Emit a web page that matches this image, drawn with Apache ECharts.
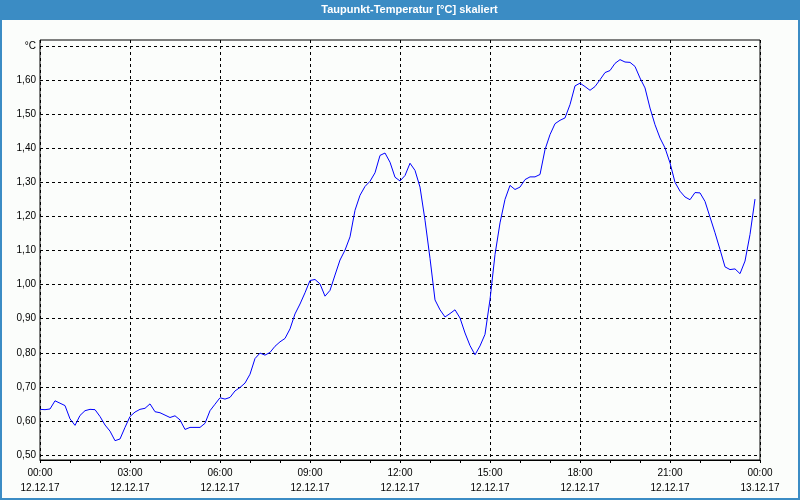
<!DOCTYPE html>
<html>
<head>
<meta charset="utf-8">
<script src="https://cdn.jsdelivr.net/npm/echarts@6/dist/echarts.min.js"></script>
<style>
  html, body { margin: 0; padding: 0; background: #fbfdfb; }
  #chart { width: 800px; height: 500px; }
</style>
</head>
<body>
<div id="chart"></div>
<script>
// Dew point temperature (°C, scaled), sampled every 10 minutes from 12.12.17 00:00
const chartTitle = 'Taupunkt-Temperatur [°C] skaliert';
const stepMinutes = 10;
const dewPoint = [
  // 00:00 - 04:50
  0.634, 0.633, 0.635, 0.659, 0.652, 0.645, 0.606, 0.587, 0.616, 0.630,
  0.634, 0.633, 0.613, 0.588, 0.570, 0.542, 0.547, 0.581, 0.613, 0.626,
  0.634, 0.637, 0.650, 0.627, 0.624, 0.617, 0.610, 0.615, 0.603, 0.575,
  // 05:00 - 09:40
  0.581, 0.581, 0.581, 0.593, 0.630, 0.649, 0.668, 0.664, 0.669, 0.688,
  0.698, 0.711, 0.737, 0.783, 0.799, 0.793, 0.801, 0.819, 0.832, 0.842,
  0.870, 0.914, 0.943, 0.976, 1.012, 1.015, 1.002, 0.966, 0.983,
  // 09:50 - 14:40
  1.028, 1.072, 1.101, 1.140, 1.218, 1.262, 1.288, 1.303, 1.328, 1.379,
  1.386, 1.359, 1.315, 1.304, 1.320, 1.356, 1.335, 1.286, 1.189, 1.077,
  0.955, 0.926, 0.905, 0.915, 0.926, 0.902, 0.858, 0.821, 0.794, 0.820,
  // 14:50 - 19:20
  0.854, 0.956, 1.088, 1.181, 1.250, 1.291, 1.279, 1.286, 1.308, 1.316,
  1.316, 1.323, 1.396, 1.440, 1.472, 1.482, 1.489, 1.528, 1.583, 1.591,
  1.581, 1.570, 1.581, 1.601, 1.622, 1.628, 1.649, 1.660,
  // 19:30 - 23:50
  1.653, 1.652, 1.640, 1.606, 1.577, 1.518, 1.469, 1.430, 1.401, 1.357,
  1.300, 1.274, 1.257, 1.249, 1.270, 1.269, 1.244, 1.198, 1.152, 1.103,
  1.052, 1.044, 1.046, 1.032, 1.069, 1.147, 1.251
];
const xTickLabels = [
  '00:00\n12.12.17', '03:00\n12.12.17', '06:00\n12.12.17', '09:00\n12.12.17',
  '12:00\n12.12.17', '15:00\n12.12.17', '18:00\n12.12.17', '21:00\n12.12.17',
  '00:00\n13.12.17'
];
const yUnitLabel = '°C';
const yMin = 0.5, yMax = 1.7, yStep = 0.1;
const xMinutesTotal = 1440, xStepMinutes = 180;

const seriesData = dewPoint.map((v, i) => [i * stepMinutes, v]);

const chart = echarts.init(document.getElementById('chart'), null, { renderer: 'canvas' });
const FONT = 'Liberation Sans';
const BLUE = '#3b8cc4';

chart.setOption({
  animation: false,
  backgroundColor: '#fbfdfb',
  textStyle: { fontFamily: FONT },
  graphic: [
    { type: 'rect', z: 0, shape: { x: 0, y: 0, width: 800, height: 20 }, style: { fill: BLUE } },
    { type: 'rect', z: 0, shape: { x: 1, y: 1, width: 798, height: 498 }, style: { fill: null, stroke: BLUE, lineWidth: 2 } },
    { type: 'text', z: 10, style: { text: chartTitle, x: 409.5, y: 10, align: 'center', verticalAlign: 'middle',
        fill: '#ffffff', font: 'bold 11px "Liberation Sans"' } }
  ],
  grid: [
    { left: 40, right: 40, top: 46, bottom: 45, show: false },
    { left: 40, right: 40, top: 40, bottom: 40, show: true, borderColor: '#000', borderWidth: 1, backgroundColor: 'transparent' }
  ],
  xAxis: [
    { type: 'value', gridIndex: 0, min: 0, max: xMinutesTotal, show: false },
    {
      type: 'value', gridIndex: 1, min: 0, max: xMinutesTotal, interval: xStepMinutes,
      axisLine: { show: true, lineStyle: { color: '#000', width: 1 } },
      axisTick: { show: true, length: 3, lineStyle: { color: '#000' } },
      minorTick: { show: true, splitNumber: 3, length: 3, lineStyle: { color: '#000' } },
      splitLine: { show: true, lineStyle: { color: '#000', type: [3, 3], width: 1 } },
      axisLabel: {
        show: true, margin: 6, color: '#000', fontSize: 10, fontFamily: FONT, lineHeight: 15,
        showMinLabel: true, showMaxLabel: true,
        formatter: (val) => xTickLabels[Math.round(val / xStepMinutes)]
      }
    }
  ],
  yAxis: [
    {
      type: 'value', gridIndex: 0, min: yMin, max: yMax, interval: yStep,
      axisLine: { show: false }, axisTick: { show: false },
      splitLine: { show: true, lineStyle: { color: '#000', type: [3, 3], width: 1 } },
      axisLabel: {
        show: true, margin: 4, color: '#000', fontSize: 10, fontFamily: FONT,
        showMinLabel: true, showMaxLabel: true,
        formatter: (v) => Math.abs(v - yMax) < 1e-6 ? yUnitLabel : v.toFixed(2).replace('.', ',')
      }
    },
    { type: 'value', gridIndex: 1, min: 0, max: 1, show: false }
  ],
  series: [{
    type: 'line', xAxisIndex: 0, yAxisIndex: 0,
    data: seriesData, showSymbol: false, symbol: 'none', smooth: false,
    lineStyle: { color: '#0000ff', width: 1 }, z: 5
  }]
});
</script>
</body>
</html>
